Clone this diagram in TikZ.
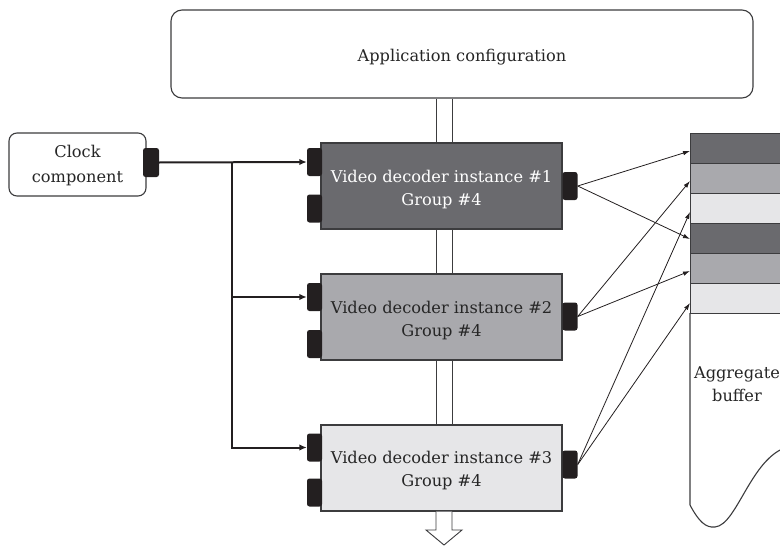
\documentclass[tikz,border=0pt]{standalone}
\usepackage{fontspec}
\setmainfont{DejaVu Serif}
\usetikzlibrary{arrows.meta,calc}

\definecolor{edge}{HTML}{3C3C3E}
\definecolor{portc}{HTML}{231F20}
\definecolor{darkg}{HTML}{6A6A6E}
\definecolor{midg}{HTML}{A9A9AD}
\definecolor{lightg}{HTML}{E6E6E8}
\definecolor{ink}{HTML}{262626}

\tikzset{
  lbl/.style={font=\fontsize{16.2}{23}\selectfont, align=center, inner sep=0pt, text=ink},
  roundbox/.style={draw=edge, line width=1.1pt, fill=white, rounded corners=11pt},
  decoder/.style={draw=edge, line width=1.1pt, minimum width=241, minimum height=86, inner sep=0pt},
  port/.style={fill=portc, rounded corners=2.5pt, minimum width=15, minimum height=28, inner sep=0pt},
  stripe/.style={draw=edge, line width=1pt, minimum width=100, minimum height=30, anchor=west, inner sep=0pt},
  clk/.style={line width=2pt, portc, -{Latex[length=7.5pt,width=6.5pt]}},
  feed/.style={line width=0.8pt, portc, -{Latex[length=7pt,width=4.5pt]}},
  pipe/.style={line width=0.9pt, edge},
}

\begin{document}
\begin{tikzpicture}[x=1pt, y=-1pt]
\useasboundingbox (0,0) rectangle (780,546);

% configuration block and the pipe feeding the decoders
\node[roundbox, minimum width=582, minimum height=88] (app) at (462,54) {};
\node[lbl] (appt) at ($(app.center)+(0,3)$) {Application configuration};
\coordinate (pl) at (436,0);
\coordinate (pr) at (452,0);

% decoder instances
\node[decoder, fill=darkg]  (d1) at (441.5,186) {};
\node[decoder, fill=midg]   (d2) at (441.5,317) {};
\node[decoder, fill=lightg] (d3) at (441.5,468) {};
\node[lbl, text=white] (d1t) at ($(d1.center)+(0,3.5)$) {Video decoder instance \#1\\Group \#4};
\node[lbl] (d2t) at ($(d2.center)+(0,3.5)$) {Video decoder instance \#2\\Group \#4};
\node[lbl] (d3t) at ($(d3.center)+(0,2.5)$) {Video decoder instance \#3\\Group \#4};

% pipe segments between the blocks
\foreach \a/\b in {app/d1, d1/d2, d2/d3} {
  \draw[pipe] (\a.south -| pl) -- (\b.north -| pl);
  \draw[pipe] (\a.south -| pr) -- (\b.north -| pr);
}
% hollow output arrow
\draw[pipe, fill=white] (d3.south -| pl) -- (436,530) -- (426,530) -- (444,545)
  -- (462,530) -- (452,530) -- (d3.south -| pr);

% ports
\node[port] (d1a) at (314.5,162) {};
\node[port] (d1b) at (314.5,208.5) {};
\node[port] (d1r) at (570,186) {};
\node[port] (d2a) at (314.5,297) {};
\node[port] (d2b) at (314.5,344) {};
\node[port] (d2r) at (570,316.5) {};
\node[port] (d3a) at (314.5,447.5) {};
\node[port] (d3b) at (314.5,492.5) {};
\node[port] (d3r) at (570,464.5) {};

% clock
\node[roundbox, rounded corners=8pt, minimum width=137, minimum height=63] (clock) at (77.5,164.5) {};
\node[lbl, font=\fontsize{16.2}{25.5}\selectfont] (clockt) at ($(clock.center)+(0,1)$) {Clock\\component};
\node[port, minimum width=16, minimum height=29] (ckp) at (151,162.5) {};

\coordinate (br) at (232,162.5);
\draw[clk] (ckp.east) -- (d1a.west);
\draw[clk] (br) |- (d2a.west);
\draw[clk] (br) |- (d3a.west);

% aggregate buffer
\begin{scope}
\clip (0,0) rectangle (780,546);
\draw[edge, line width=1.1pt, fill=white] (690,313) -- (690,505)
  .. controls (699,522) and (706,528) .. (715,527)
  .. controls (738,525) and (752,452) .. (792,446);
\node[stripe, fill=darkg]  (s1) at (690,148) {};
\node[stripe, fill=midg]   (s2) at (690,178) {};
\node[stripe, fill=lightg] (s3) at (690,208) {};
\node[stripe, fill=darkg]  (s4) at (690,238) {};
\node[stripe, fill=midg]   (s5) at (690,268) {};
\node[stripe, fill=lightg] (s6) at (690,298) {};
\node[lbl] (agg) at (737,384) {Aggregate\\buffer};
\end{scope}

% decoder outputs into the buffer
\draw[feed] (d1r.east) -- ($(s1.west)+(0,3)$);
\draw[feed] (d1r.east) -- ($(s4.west)+(0,1)$);
\draw[feed] (d2r.east) -- ($(s2.west)+(0,3)$);
\draw[feed] (d2r.east) -- ($(s5.west)+(0,3)$);
\draw[feed] (d3r.east) -- ($(s3.west)+(0,4)$);
\draw[feed] (d3r.east) -- ($(s6.west)+(0,5)$);
\end{tikzpicture}
\end{document}
